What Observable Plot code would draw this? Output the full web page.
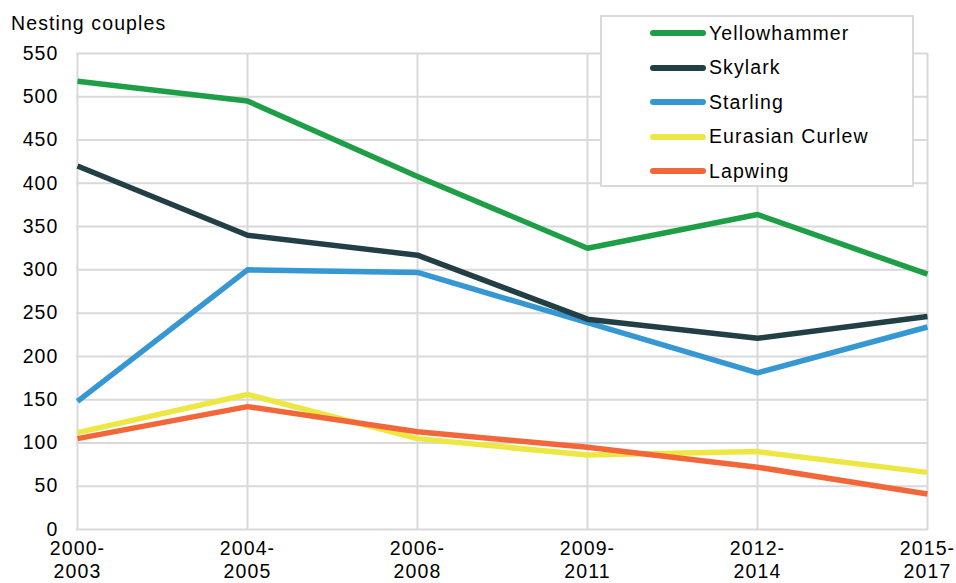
<!DOCTYPE html>
<html>
<head>
<meta charset="utf-8">
<script src="https://cdn.jsdelivr.net/npm/d3@7"></script>
<script src="https://cdn.jsdelivr.net/npm/@observablehq/plot@0.6"></script>
<style>
  html, body { margin: 0; padding: 0; background: #fff; }
  body { font-family: "Liberation Sans", Arial, sans-serif; }
  #wrap { position: relative; width: 956px; height: 583px; }
  #title { position: absolute; left: 11px; top: 12px; font-size: 19.5px; letter-spacing: 1.1px; color: #000; }
  #legend { position: absolute; left: 600px; top: 15px; width: 310px; height: 168px;
            border: 2px solid #d9d9d9; background: #fff; box-sizing: content-box; }
  .lg { position: absolute; left: 48px; height: 24px; display: flex; align-items: center; font-size: 19.5px; letter-spacing: 1.1px; color: #000; }
  .sw { width: 56px; height: 6px; border-radius: 3px; margin-right: 3px; }
  #chart svg text { letter-spacing: 1.1px; }
</style>
</head>
<body>
<div id="wrap">
  <div id="chart"></div>
  <div id="title">Nesting couples</div>
  <div id="legend"></div>
</div>
<script>
const periods = ["2000-\n2003", "2004-\n2005", "2006-\n2008", "2009-\n2011", "2012-\n2014", "2015-\n2017"];
const species = ["Yellowhammer", "Skylark", "Starling", "Eurasian Curlew", "Lapwing"];
const colors = ["#1f9e48", "#233f46", "#3797d3", "#ede743", "#f2673a"];
const yellowhammer = [518, 495, 408, 325, 364, 295];
const skylark = [420, 340, 317, 243, 221, 246];
const starling = [148, 300, 297, 239, 181, 234];
const curlew = [112, 156, 105, 86, 90, 66];
const lapwing = [105, 142, 113, 95, 72, 41];
const yTicks = [0, 50, 100, 150, 200, 250, 300, 350, 400, 450, 500, 550];

const seriesValues = [yellowhammer, skylark, starling, curlew, lapwing];
const data = [];
seriesValues.forEach((vals, i) => vals.forEach((v, j) => data.push({period: periods[j], species: species[i], value: v})));
const drawOrder = ["Yellowhammer", "Starling", "Skylark", "Eurasian Curlew", "Lapwing"];

const chart = Plot.plot({
  width: 956,
  height: 583,
  marginLeft: 76,
  marginRight: 28,
  marginTop: 53,
  marginBottom: 54,
  style: {fontFamily: "Liberation Sans, Arial, sans-serif", fontSize: "19.5px", color: "#000", background: "#fff"},
  x: {type: "point", domain: periods, padding: 0},
  y: {domain: [0, 550]},
  color: {domain: species, range: colors},
  marks: [
    Plot.ruleY(yTicks, {stroke: "#d9d9d9", strokeWidth: 2}),
    Plot.ruleX(periods, {stroke: "#d9d9d9", strokeWidth: 2}),
    Plot.axisY({ticks: yTicks, tickSize: 0, tickPadding: 18, label: null, fontSize: 19.5}),
    Plot.axisX({tickSize: 0, tickPadding: 9, label: null, fontSize: 19.5, lineHeight: 1.17}),
    ...drawOrder.map(s => Plot.line(data.filter(d => d.species === s), {
      x: "period", y: "value", stroke: colors[species.indexOf(s)], strokeWidth: 5.5,
      strokeLinecap: "butt", strokeLinejoin: "round"
    }))
  ]
});
document.getElementById("chart").appendChild(chart);

const legend = document.getElementById("legend");
species.forEach((s, i) => {
  const row = document.createElement("div");
  row.className = "lg";
  row.style.top = (4 + i * 34.5) + "px";
  const sw = document.createElement("div");
  sw.className = "sw";
  sw.style.background = colors[i];
  const t = document.createElement("span");
  t.textContent = s;
  row.appendChild(sw);
  row.appendChild(t);
  legend.appendChild(row);
});
</script>
</body>
</html>
